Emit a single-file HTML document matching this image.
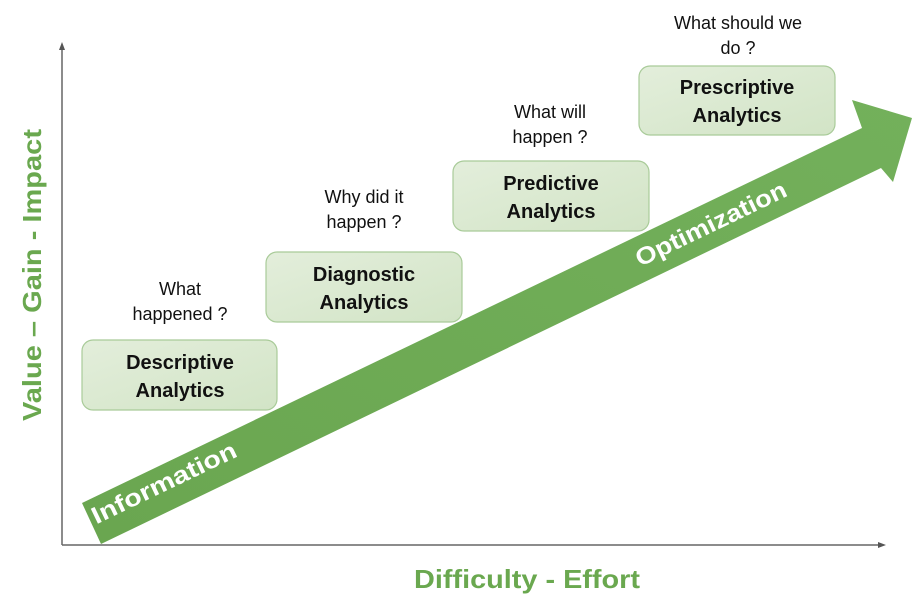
<!DOCTYPE html>
<html><head><meta charset="utf-8"><style>
html,body{margin:0;padding:0;background:#fff;}
svg{display:block;}
text{font-family:"Liberation Sans",sans-serif;}
</style></head><body>
<svg width="913" height="616" viewBox="0 0 913 616" xmlns="http://www.w3.org/2000/svg">
<defs>
<linearGradient id="g" x1="0" y1="1" x2="1" y2="0">
<stop offset="0" stop-color="#6aa650"/><stop offset="1" stop-color="#73b05b"/>
</linearGradient>
<linearGradient id="b" x1="0" y1="0" x2="1" y2="1">
<stop offset="0" stop-color="#e3eedb"/><stop offset="1" stop-color="#d2e4c6"/>
</linearGradient>
</defs>
<line x1="62" y1="48" x2="62" y2="545" stroke="#666" stroke-width="1.5"/>
<polygon points="62,42 59,50 65,50" fill="#555"/>
<line x1="62" y1="545" x2="880" y2="545" stroke="#666" stroke-width="1.5"/>
<polygon points="886,545 878,542 878,548" fill="#555"/>
<polygon points="82,503 862,128 852,100 912,118 893,182 881,168 101,544" fill="url(#g)"/>
<text transform="translate(164,483) rotate(-25.7)" text-anchor="middle" font-size="24" font-weight="bold" fill="#fff" dy="8" textLength="158" lengthAdjust="spacingAndGlyphs">Information</text>
<text transform="translate(711,224) rotate(-25.7)" text-anchor="middle" font-size="24" font-weight="bold" fill="#fff" dy="8" textLength="165" lengthAdjust="spacingAndGlyphs">Optimization</text>
<g stroke="#a9cb99" stroke-width="1.2" fill="url(#b)">
<rect x="82" y="340" width="195" height="70" rx="11"/>
<rect x="266" y="252" width="196" height="70" rx="11"/>
<rect x="453" y="161" width="196" height="70" rx="11"/>
<rect x="639" y="66" width="196" height="69" rx="11"/>
</g>
<g font-size="20" font-weight="bold" fill="#111" text-anchor="middle">
<text x="180" y="369">Descriptive</text><text x="180" y="397">Analytics</text>
<text x="364" y="281">Diagnostic</text><text x="364" y="309">Analytics</text>
<text x="551" y="190">Predictive</text><text x="551" y="218">Analytics</text>
<text x="737" y="94">Prescriptive</text><text x="737" y="122">Analytics</text>
</g>
<g font-size="18" fill="#111" text-anchor="middle">
<text x="180" y="295">What</text><text x="180" y="320">happened ?</text>
<text x="364" y="203">Why did it</text><text x="364" y="228">happen ?</text>
<text x="550" y="118">What will</text><text x="550" y="143">happen ?</text>
<text x="738" y="29">What should we</text><text x="738" y="54">do ?</text>
</g>
<text x="527" y="588" text-anchor="middle" font-size="26" font-weight="bold" fill="#6aa84f" textLength="226" lengthAdjust="spacingAndGlyphs">Difficulty - Effort</text>
<text transform="translate(41,275) rotate(-90)" text-anchor="middle" font-size="26" font-weight="bold" fill="#6aa84f" textLength="292" lengthAdjust="spacingAndGlyphs">Value – Gain - Impact</text>
</svg>
</body></html>
